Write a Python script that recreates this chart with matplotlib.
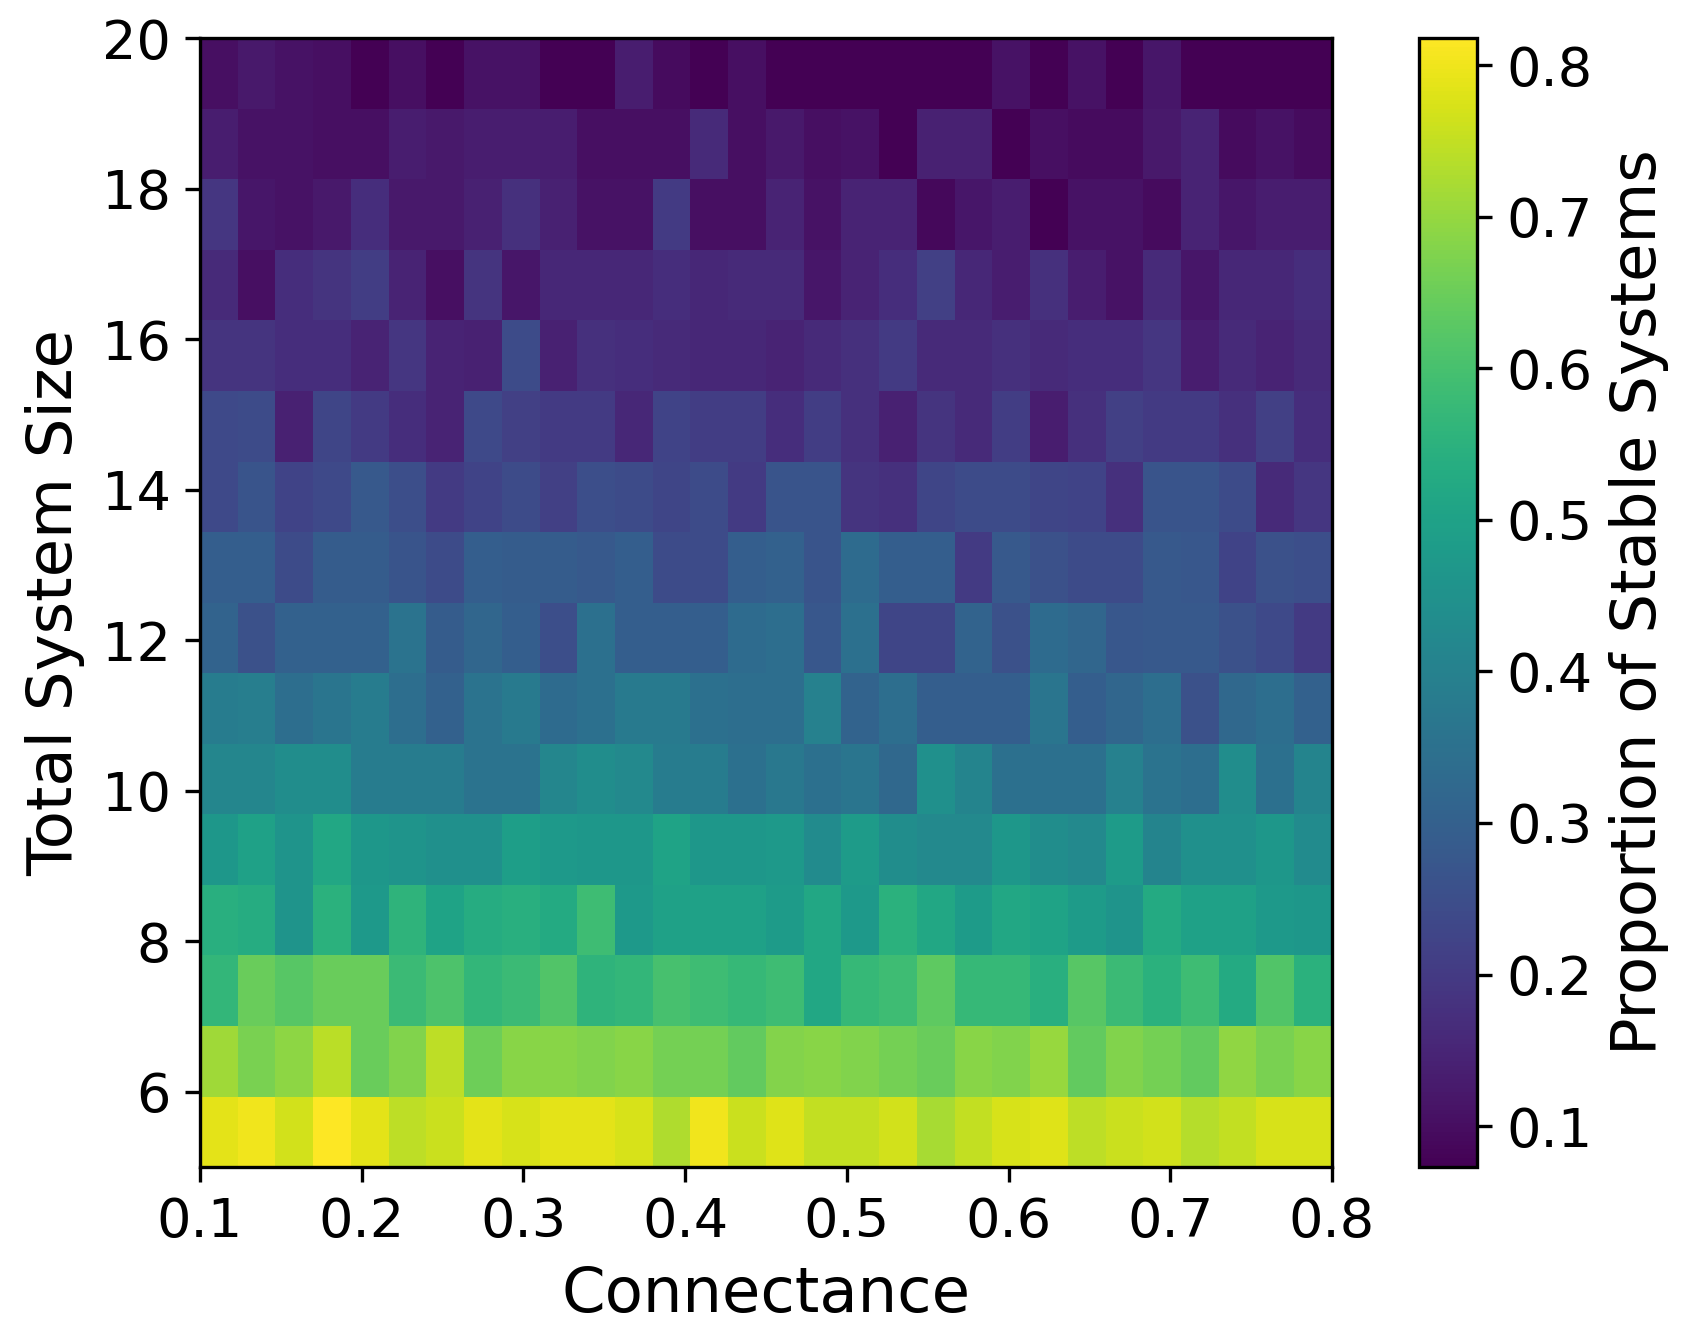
import matplotlib

matplotlib.use("Agg")
import matplotlib.pyplot as plt
import numpy as np

# connectance runs 0.1 -> 0.8 in 30 steps, system size 5 -> 20 (16 rows)
CONNECTANCE_RANGE = (0.1, 0.8)
SIZE_RANGE = (5, 20)

# proportion of stable systems, one list per system size (bottom row first)
size_05 = [0.788, 0.803, 0.766, 0.818, 0.788, 0.744, 0.758, 0.788, 0.773, 0.788, 0.788, 0.773, 0.729, 0.803, 0.758,
           0.781, 0.751, 0.751, 0.766, 0.721, 0.751, 0.773, 0.781, 0.744, 0.758, 0.766, 0.736, 0.751, 0.773, 0.773]
size_06 = [0.712, 0.669, 0.691, 0.740, 0.647, 0.676, 0.744, 0.654, 0.686, 0.686, 0.676, 0.686, 0.662, 0.662, 0.639,
           0.680, 0.686, 0.676, 0.662, 0.647, 0.686, 0.676, 0.702, 0.639, 0.676, 0.662, 0.639, 0.695, 0.669, 0.686]
size_07 = [0.565, 0.647, 0.624, 0.647, 0.647, 0.580, 0.609, 0.565, 0.580, 0.617, 0.557, 0.565, 0.602, 0.587, 0.572,
           0.587, 0.520, 0.572, 0.587, 0.632, 0.572, 0.572, 0.542, 0.624, 0.580, 0.550, 0.587, 0.527, 0.617, 0.550]
size_08 = [0.542, 0.535, 0.460, 0.550, 0.475, 0.557, 0.505, 0.535, 0.542, 0.527, 0.587, 0.475, 0.498, 0.498, 0.498,
           0.483, 0.520, 0.475, 0.550, 0.520, 0.483, 0.520, 0.505, 0.483, 0.460, 0.527, 0.498, 0.498, 0.475, 0.468]
size_09 = [0.468, 0.498, 0.460, 0.520, 0.468, 0.460, 0.446, 0.446, 0.490, 0.475, 0.468, 0.468, 0.505, 0.468, 0.468,
           0.475, 0.431, 0.483, 0.438, 0.423, 0.423, 0.468, 0.438, 0.423, 0.483, 0.408, 0.446, 0.446, 0.468, 0.431]
size_10 = [0.416, 0.416, 0.438, 0.438, 0.386, 0.386, 0.386, 0.356, 0.356, 0.416, 0.438, 0.423, 0.386, 0.386, 0.349,
           0.371, 0.349, 0.364, 0.326, 0.446, 0.408, 0.349, 0.349, 0.349, 0.401, 0.356, 0.341, 0.438, 0.349, 0.408]
size_11 = [0.386, 0.393, 0.341, 0.364, 0.386, 0.341, 0.304, 0.356, 0.378, 0.334, 0.349, 0.378, 0.378, 0.349, 0.341,
           0.341, 0.401, 0.311, 0.341, 0.297, 0.297, 0.297, 0.364, 0.297, 0.319, 0.341, 0.259, 0.326, 0.341, 0.304]
size_12 = [0.311, 0.259, 0.304, 0.304, 0.304, 0.356, 0.289, 0.319, 0.297, 0.252, 0.349, 0.297, 0.297, 0.297, 0.334,
           0.341, 0.274, 0.349, 0.229, 0.229, 0.311, 0.259, 0.334, 0.319, 0.274, 0.282, 0.282, 0.259, 0.237, 0.200]
size_13 = [0.297, 0.297, 0.244, 0.289, 0.289, 0.267, 0.244, 0.297, 0.289, 0.289, 0.282, 0.297, 0.244, 0.244, 0.297,
           0.304, 0.267, 0.334, 0.297, 0.297, 0.200, 0.282, 0.259, 0.244, 0.244, 0.282, 0.274, 0.222, 0.259, 0.252]
size_14 = [0.237, 0.267, 0.222, 0.237, 0.282, 0.252, 0.200, 0.222, 0.244, 0.215, 0.252, 0.244, 0.229, 0.244, 0.200,
           0.267, 0.267, 0.185, 0.177, 0.229, 0.244, 0.244, 0.229, 0.222, 0.177, 0.267, 0.267, 0.244, 0.162, 0.192]
size_15 = [0.237, 0.244, 0.140, 0.229, 0.200, 0.170, 0.148, 0.237, 0.215, 0.200, 0.200, 0.155, 0.222, 0.207, 0.207,
           0.170, 0.207, 0.177, 0.140, 0.185, 0.162, 0.207, 0.133, 0.177, 0.215, 0.200, 0.200, 0.177, 0.215, 0.170]
size_16 = [0.185, 0.185, 0.170, 0.170, 0.148, 0.192, 0.148, 0.140, 0.244, 0.140, 0.177, 0.170, 0.162, 0.155, 0.155,
           0.148, 0.162, 0.177, 0.200, 0.162, 0.162, 0.177, 0.162, 0.170, 0.170, 0.192, 0.133, 0.162, 0.148, 0.162]
size_17 = [0.162, 0.103, 0.170, 0.185, 0.207, 0.148, 0.103, 0.185, 0.118, 0.155, 0.155, 0.155, 0.170, 0.155, 0.162,
           0.162, 0.118, 0.148, 0.170, 0.215, 0.155, 0.133, 0.177, 0.133, 0.110, 0.162, 0.118, 0.155, 0.155, 0.170]
size_18 = [0.192, 0.118, 0.110, 0.125, 0.170, 0.125, 0.125, 0.140, 0.177, 0.140, 0.110, 0.110, 0.200, 0.103, 0.103,
           0.148, 0.110, 0.148, 0.148, 0.088, 0.118, 0.133, 0.075, 0.110, 0.110, 0.095, 0.148, 0.118, 0.133, 0.133]
size_19 = [0.133, 0.110, 0.110, 0.103, 0.103, 0.133, 0.125, 0.133, 0.133, 0.133, 0.103, 0.103, 0.103, 0.162, 0.103,
           0.125, 0.103, 0.110, 0.075, 0.140, 0.140, 0.075, 0.103, 0.095, 0.095, 0.125, 0.148, 0.095, 0.110, 0.095]
size_20 = [0.103, 0.125, 0.110, 0.103, 0.073, 0.103, 0.073, 0.110, 0.110, 0.073, 0.073, 0.133, 0.095, 0.073, 0.103,
           0.074, 0.075, 0.074, 0.075, 0.074, 0.075, 0.110, 0.074, 0.110, 0.074, 0.118, 0.075, 0.074, 0.075, 0.074]

ROWS = [size_05, size_06, size_07, size_08, size_09, size_10, size_11, size_12,
        size_13, size_14, size_15, size_16, size_17, size_18, size_19, size_20]

X_TICKS = [0.1, 0.2, 0.3, 0.4, 0.5, 0.6, 0.7, 0.8]
Y_TICKS = [6, 8, 10, 12, 14, 16, 18, 20]
CBAR_TICKS = [0.1, 0.2, 0.3, 0.4, 0.5, 0.6, 0.7, 0.8]


def main() -> None:
    plt.rcParams.update({"font.family": "DejaVu Sans", "font.size": 13})
    W, H = 1695, 1343
    fig = plt.figure(figsize=(W / 300, H / 300), dpi=300)
    ax = fig.add_axes([200 / W, 1 - 1167 / H, 1132 / W, 1129 / H])
    cax = fig.add_axes([1419 / W, 1 - 1167 / H, 58 / W, 1129 / H])

    grid = np.array(ROWS)
    im = ax.imshow(
        grid,
        cmap="viridis",
        origin="lower",
        aspect="auto",
        extent=[CONNECTANCE_RANGE[0], CONNECTANCE_RANGE[1], SIZE_RANGE[0], SIZE_RANGE[1]],
    )
    ax.set_xticks(X_TICKS)
    ax.set_xticklabels([f"{t:.1f}" for t in X_TICKS])
    ax.set_yticks(Y_TICKS)
    ax.set_xlabel("Connectance", fontsize=15)
    ax.set_ylabel("Total System Size", fontsize=15)
    ax.tick_params(labelsize=13)

    cb = fig.colorbar(im, cax=cax)
    cb.set_ticks(CBAR_TICKS)
    cb.ax.tick_params(labelsize=13)
    cb.set_label("Proportion of Stable Systems", fontsize=15)

    fig.savefig("out.png", dpi=300)
    plt.close(fig)


if __name__ == "__main__":
    main()
